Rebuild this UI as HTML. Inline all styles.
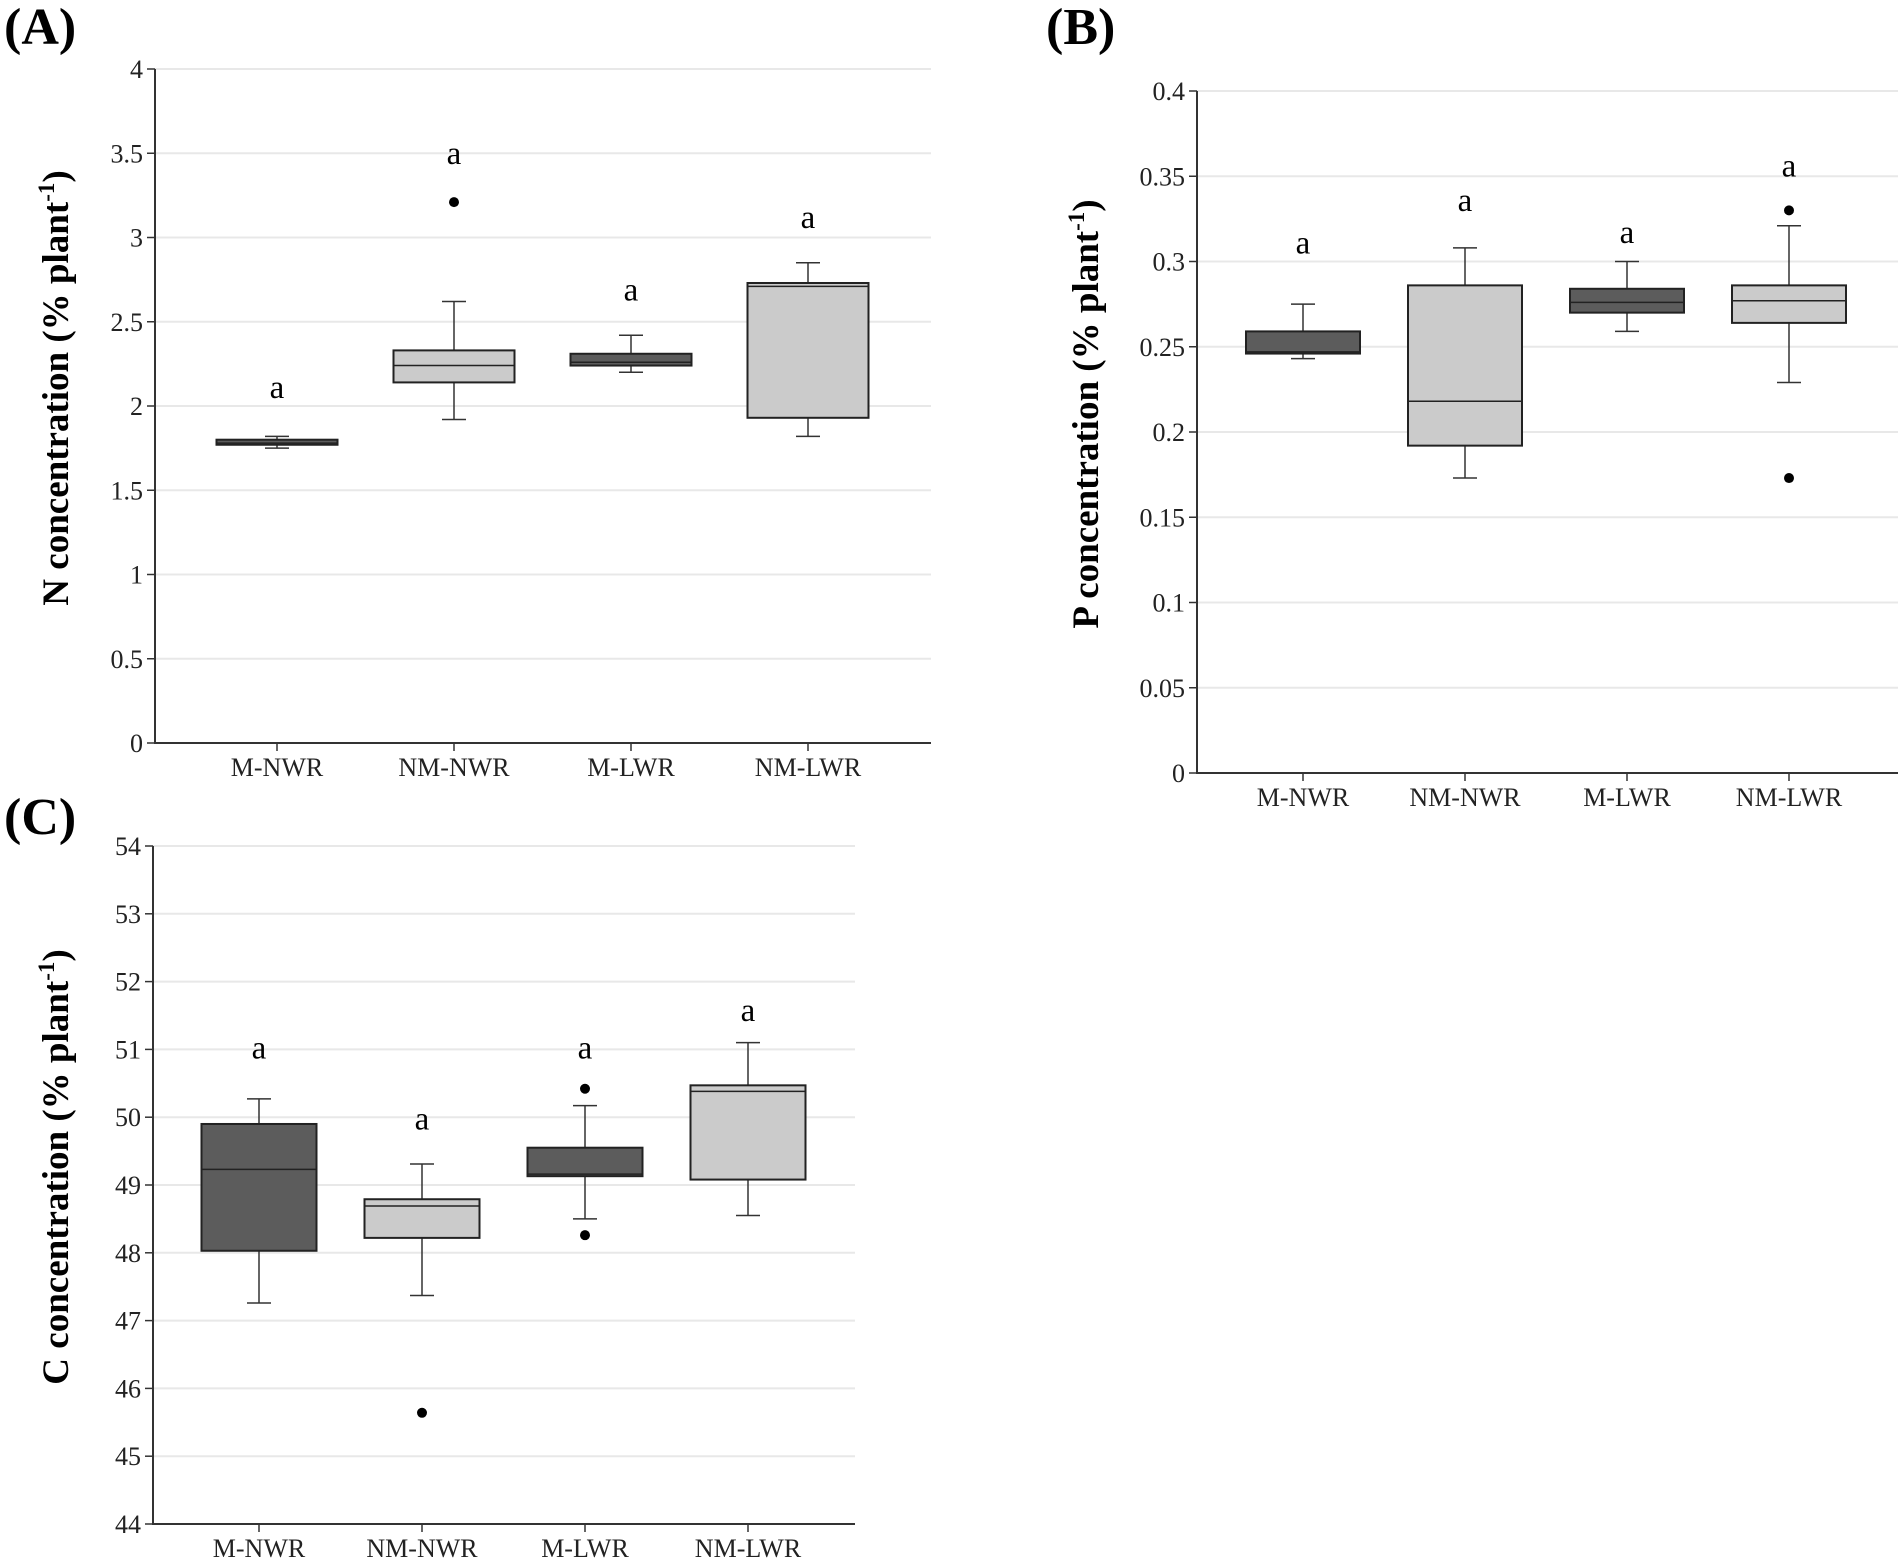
<!DOCTYPE html>
<html><head><meta charset="utf-8"><style>
html,body{margin:0;padding:0;background:#fff;}
svg{display:block;font-family:"Liberation Serif",serif;}
</style></head><body>
<svg id="fig" width="1902" height="1563" viewBox="0 0 1902 1563"></svg>
<script>
const categories = ["M-NWR","NM-NWR","M-LWR","NM-LWR"];
const fills = ["#5c5c5c","#cbcbcb","#5c5c5c","#cbcbcb"];
// [low, q1, median, q3, high]
const nStats = [[1.75,1.77,1.78,1.80,1.82],[1.92,2.14,2.24,2.33,2.62],[2.20,2.24,2.26,2.31,2.42],[1.82,1.93,2.71,2.73,2.85]];
const nOutliers = [[],[3.21],[],[]];
const nLetters = [2.10,3.49,2.68,3.11];
const nTicks = [0,0.5,1,1.5,2,2.5,3,3.5,4];
const pStats = [[0.243,0.246,0.247,0.259,0.275],[0.173,0.192,0.218,0.286,0.308],[0.259,0.270,0.276,0.284,0.300],[0.229,0.264,0.277,0.286,0.321]];
const pOutliers = [[],[],[],[0.330,0.173]];
const pLetters = [0.310,0.335,0.316,0.355];
const pTicks = [0,0.05,0.1,0.15,0.2,0.25,0.3,0.35,0.4];
const cStats = [[47.26,48.03,49.23,49.90,50.27],[47.37,48.22,48.69,48.79,49.31],[48.50,49.13,49.16,49.55,50.17],[48.55,49.08,50.38,50.47,51.10]];
const cOutliers = [[],[45.64],[50.42,48.26],[]];
const cLetters = [51.0,49.95,51.0,51.55];
const cTicks = [44,45,46,47,48,49,50,51,52,53,54];

const NS="http://www.w3.org/2000/svg";
const svg=document.getElementById('fig');
function mk(tag,attrs,parent,text){const e=document.createElementNS(NS,tag);for(const k in attrs)e.setAttribute(k,attrs[k]);if(text!==undefined)e.textContent=text;(parent||svg).appendChild(e);return e;}

function panel(geo,stats,outliers,letters,ticks,ytitle,label,prefix){
  const g=mk('g',{});
  
  
  const ymin=ticks[0],ymax=ticks[ticks.length-1];
  const Y=v=>geo.bottom-(v-ymin)/(ymax-ymin)*(geo.bottom-geo.top);
  const X=i=>geo.cats[0]+i*(geo.cats[1]-geo.cats[0]);
  const lab=mk('text',{x:geo.lx,y:geo.ly,'font-size':52,'font-weight':'bold'},g,label);
  
  
  ticks.forEach(t=>{
    const y=Y(t);
    if(t!==ymin){const gl=mk('line',{x1:geo.left,x2:geo.right,y1:y,y2:y,stroke:'#e8e8e8','stroke-width':2},g);
      }
    mk('line',{x1:geo.left-8,x2:geo.left,y1:y,y2:y,stroke:'#333','stroke-width':1.5},g);
    const tl=mk('text',{x:geo.left-12,y:y+9,'font-size':26,'text-anchor':'end',fill:'#222'},g,String(t));
    
  });
  const ax=mk('path',{d:`M${geo.left},${geo.top}V${geo.bottom}H${geo.right}`,fill:'none',stroke:'#333','stroke-width':2},g);
  
  const yt=mk('text',{x:0,y:0,'font-size':37,'font-weight':'bold','text-anchor':'middle',transform:`translate(${geo.tx},${(geo.top+geo.bottom)/2-18}) rotate(-90)`},g);
  
  yt.appendChild(document.createTextNode(ytitle+' (% plant'));
  mk('tspan',{'font-size':23,dy:-14},yt,'-1');
  mk('tspan',{dy:14},yt,')');
  const hw=geo.bw/2;
  categories.forEach((c,i)=>{
    const x=X(i), s=stats[i];
    mk('line',{x1:x,x2:x,y1:geo.bottom,y2:geo.bottom+8,stroke:'#333','stroke-width':1.5},g);
    const xl=mk('text',{x:x,y:geo.bottom+33,'font-size':26,'text-anchor':'middle',fill:'#222'},g,c);
    
    const bg=mk('g',{},g);
    
    
    mk('line',{x1:x,x2:x,y1:Y(s[4]),y2:Y(s[3]),stroke:'#333','stroke-width':1.5},bg);
    mk('line',{x1:x,x2:x,y1:Y(s[1]),y2:Y(s[0]),stroke:'#333','stroke-width':1.5},bg);
    mk('line',{x1:x-12,x2:x+12,y1:Y(s[4]),y2:Y(s[4]),stroke:'#333','stroke-width':1.5},bg);
    mk('line',{x1:x-12,x2:x+12,y1:Y(s[0]),y2:Y(s[0]),stroke:'#333','stroke-width':1.5},bg);
    mk('rect',{x:x-hw,y:Y(s[3]),width:geo.bw,height:Math.max(1,Y(s[1])-Y(s[3])),fill:fills[i],stroke:'#222','stroke-width':2},bg);
    mk('line',{x1:x-hw,x2:x+hw,y1:Y(s[2]),y2:Y(s[2]),stroke:'#222','stroke-width':1.5},bg);
    outliers[i].forEach(o=>{const d=mk('circle',{cx:x,cy:Y(o),r:5,fill:'#000'},g);
      });
    const lt=mk('text',{x:x,y:Y(letters[i])+9,'font-size':33,'text-anchor':'middle'},g,'a');
    
  });
}
panel({left:155,right:931,top:69,bottom:743,cats:[277,454],bw:121,tx:68,lx:4,ly:44},nStats,nOutliers,nLetters,nTicks,'N concentration','(A)','n-concentration');
panel({left:1197,right:1898,top:91,bottom:773,cats:[1303,1465],bw:114,tx:1098,lx:1046,ly:44},pStats,pOutliers,pLetters,pTicks,'P concentration','(B)','p-concentration');
panel({left:153,right:855,top:846,bottom:1524,cats:[259,422],bw:115,tx:68,lx:4,ly:834},cStats,cOutliers,cLetters,cTicks,'C concentration','(C)','c-concentration');
</script>
</body></html>
